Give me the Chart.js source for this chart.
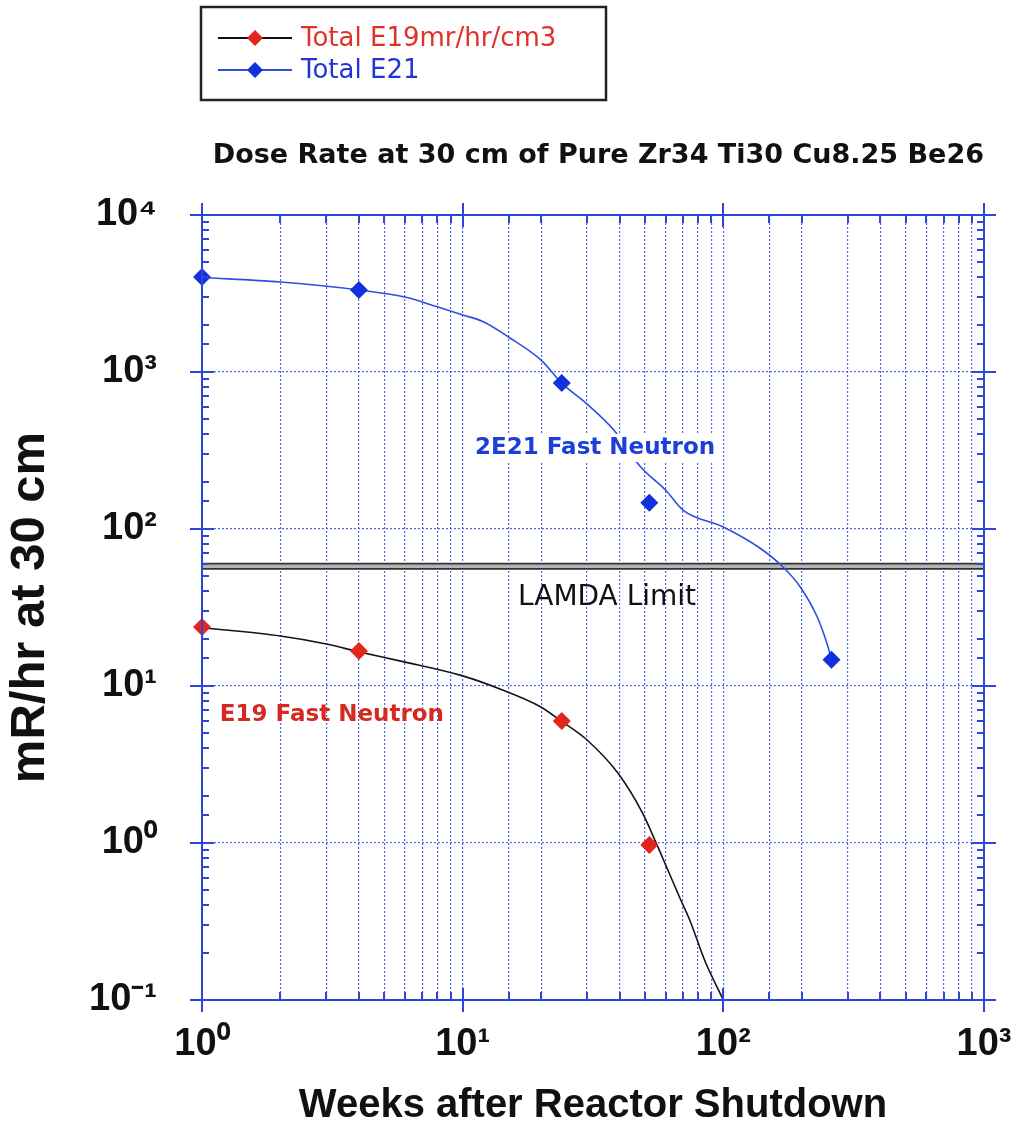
<!DOCTYPE html>
<html>
<head>
<meta charset="utf-8">
<script src="https://cdn.jsdelivr.net/npm/chart.js@4.4.1/dist/chart.umd.min.js"></script>
<style>
  html, body { margin: 0; padding: 0; background: #fff; }
</style>
</head>
<body>
<canvas id="doseChart" width="1021" height="1130"></canvas>
<script>
// measured points (weeks after shutdown, mR/hr at 30 cm)
const weeksE19 = [1, 4, 24, 52];
const doseE19 = [23.8, 16.7, 5.98, 0.97];
const weeksE21 = [1, 4, 24, 52, 260];
const doseE21 = [4030, 3330, 850, 147, 14.7];

// fitted curves
const fitWeeksE19 = [1, 2, 3, 4, 5.9, 10, 13.9, 19.8, 24, 30, 39.4, 49, 55.4, 60.4, 68, 74.5, 85, 100];
const fitDoseE19 = [23.5, 20.8, 18.5, 16.5, 14.3, 11.6, 9.57, 7.4, 5.94, 4.53, 2.79, 1.55, 0.99, 0.71, 0.45, 0.32, 0.177, 0.1];
const fitWeeksE21 = [1, 2, 4, 6, 8, 10, 12, 15, 20, 24, 30, 38, 48, 60, 70, 100, 138, 169, 197, 229, 252, 260];
const fitDoseE21 = [4000, 3740, 3330, 3000, 2600, 2310, 2090, 1670, 1190, 850, 625, 427, 250, 177, 132, 103, 75.7, 57.5, 42.9, 27.6, 17.8, 14.7];

// LAMDA limit
const lamdaWeeks = [1, 1000];
const lamdaDose = [58, 58];

// tick labels
const xTicks = [1, 10, 100, 1000];
const xTickLabels = ["10⁰", "10¹", "10²", "10³"];
const yTicks = [0.1, 1, 10, 100, 1000, 10000];
const yTickLabels = ["10⁻¹", "10⁰", "10¹", "10²", "10³", "10⁴"];

const RED = "#e2261c";
const BLUE = "#1230dc";
const BLUE_LINE = "#2f4fe2";
const GRID = "rgba(62, 84, 228, 0.9)";
const FRAME = "#2d45d8";

const toXY = (xs, ys) => xs.map((x, i) => ({ x: x, y: ys[i] }));
const isDecade = (v) => Math.abs(Math.log10(v) - Math.round(Math.log10(v))) < 1e-9;
const labelFor = (ticks, labels, v) => {
  const i = ticks.findIndex((t) => Math.abs(t - v) < t * 1e-6);
  return i >= 0 ? labels[i] : "";
};
// keep the plot box fixed, no extra room for edge labels
const noPad = (s) => { s.paddingLeft = 0; s.paddingRight = 0; s.paddingTop = 0; s.paddingBottom = 0; };

const annotations = [
  { text: "2E21 Fast Neutron", x: 32.2, y: 328, color: "#1d3fd9", font: "bold 23px 'DejaVu Sans'", box: true },
  { text: "LAMDA Limit", x: 35.8, y: 36.3, color: "#111", font: "28px 'DejaVu Sans'", box: false },
  { text: "E19 Fast Neutron", x: 3.15, y: 6.53, color: "#d42a22", font: "bold 23px 'DejaVu Sans'", box: false },
];

function diamond(ctx, x, y, r, color) {
  ctx.fillStyle = color;
  ctx.beginPath();
  ctx.moveTo(x, y - r);
  ctx.lineTo(x + r, y);
  ctx.lineTo(x, y + r);
  ctx.lineTo(x - r, y);
  ctx.closePath();
  ctx.fill();
}

// text labels inside the plot
const annotationPlugin = {
  id: "annotations",
  afterDatasetsDraw(chart) {
    const { ctx, scales } = chart;
    ctx.save();
    annotations.forEach((a) => {
      const px = scales.x.getPixelForValue(a.x);
      const py = scales.y.getPixelForValue(a.y);
      ctx.font = a.font;
      const w = ctx.measureText(a.text).width;
      if (a.box) {
        ctx.fillStyle = "#fff";
        ctx.fillRect(px - w / 2 - 4, py - 14, w + 8, 28);
      }
      ctx.fillStyle = a.color;
      ctx.textAlign = "center";
      ctx.textBaseline = "middle";
      ctx.fillText(a.text, px, py);
    });
    ctx.restore();
  },
};

// blue frame with crossing decade ticks and inner minor ticks, plus the boxed legend
const framePlugin = {
  id: "frame",
  afterDraw(chart) {
    const { ctx, chartArea: a, scales } = chart;
    ctx.save();
    ctx.strokeStyle = FRAME;
    ctx.lineWidth = 2;
    ctx.strokeRect(a.left, a.top, a.right - a.left, a.bottom - a.top);
    ctx.beginPath();
    scales.x.ticks.forEach((t) => {
      const px = Math.round(scales.x.getPixelForValue(t.value));
      if (isDecade(t.value)) {
        ctx.moveTo(px, a.bottom - 12); ctx.lineTo(px, a.bottom + 12);
        ctx.moveTo(px, a.top - 12); ctx.lineTo(px, a.top + 12);
      } else {
        ctx.moveTo(px, a.bottom); ctx.lineTo(px, a.bottom - 8);
        ctx.moveTo(px, a.top); ctx.lineTo(px, a.top + 8);
      }
    });
    scales.y.ticks.forEach((t) => {
      const py = Math.round(scales.y.getPixelForValue(t.value));
      if (isDecade(t.value)) {
        ctx.moveTo(a.left - 12, py); ctx.lineTo(a.left + 12, py);
        ctx.moveTo(a.right - 12, py); ctx.lineTo(a.right + 12, py);
      } else {
        ctx.moveTo(a.left, py); ctx.lineTo(a.left + 7, py);
        ctx.moveTo(a.right, py); ctx.lineTo(a.right - 7, py);
      }
    });
    ctx.stroke();

    // legend
    const rows = [
      { label: chart.data.datasets[0].label, line: "#111", marker: RED, text: "#e0322b" },
      { label: chart.data.datasets[1].label, line: BLUE_LINE, marker: BLUE, text: "#2236d8" },
    ];
    ctx.strokeStyle = "#222";
    ctx.lineWidth = 2.5;
    ctx.strokeRect(201, 7, 405, 93);
    rows.forEach((r, i) => {
      const y = 38 + i * 32;
      ctx.strokeStyle = r.line;
      ctx.lineWidth = 2;
      ctx.beginPath();
      ctx.moveTo(218, y);
      ctx.lineTo(292, y);
      ctx.stroke();
      diamond(ctx, 255, y, 8, r.marker);
      ctx.fillStyle = r.text;
      ctx.font = "26px 'DejaVu Sans'";
      ctx.textAlign = "left";
      ctx.textBaseline = "middle";
      ctx.fillText(r.label, 301, y + 1);
    });
    ctx.restore();
  },
};

const config = {
  type: "scatter",
  data: {
    datasets: [
      {
        label: "Total E19mr/hr/cm3",
        data: toXY(weeksE19, doseE19),
        showLine: false,
        pointStyle: "rectRot",
        pointRadius: 9,
        pointBackgroundColor: RED,
        pointBorderWidth: 0,
        clip: false,
      },
      {
        label: "Total E21",
        data: toXY(weeksE21, doseE21),
        showLine: false,
        pointStyle: "rectRot",
        pointRadius: 9,
        pointBackgroundColor: BLUE,
        pointBorderWidth: 0,
        clip: false,
      },
      {
        label: "E19 fit",
        data: toXY(fitWeeksE19, fitDoseE19),
        showLine: true,
        borderColor: "#151515",
        borderWidth: 1.6,
        pointRadius: 0,
        cubicInterpolationMode: "monotone",
      },
      {
        label: "E21 fit",
        data: toXY(fitWeeksE21, fitDoseE21),
        showLine: true,
        borderColor: BLUE_LINE,
        borderWidth: 1.6,
        pointRadius: 0,
        cubicInterpolationMode: "monotone",
      },
      {
        label: "LAMDA inner",
        data: toXY(lamdaWeeks, lamdaDose),
        showLine: true,
        borderColor: "#b4b4b4",
        borderWidth: 3.5,
        pointRadius: 0,
      },
      {
        label: "LAMDA Limit",
        data: toXY(lamdaWeeks, lamdaDose),
        showLine: true,
        borderColor: "#333",
        borderWidth: 7,
        pointRadius: 0,
      },
    ],
  },
  options: {
    responsive: false,
    animation: false,
    layout: { padding: { top: 140, right: 37, bottom: 0, left: 0 } },
    plugins: {
      legend: { display: false },
      tooltip: { enabled: false },
      title: {
        display: true,
        align: "end",
        text: "Dose Rate at 30 cm of Pure Zr34 Ti30 Cu8.25 Be26",
        color: "#111",
        font: { family: "'DejaVu Sans'", size: 27, weight: "bold", lineHeight: 1.2 },
        padding: { top: 0, bottom: 42.6 },
      },
    },
    scales: {
      x: {
        type: "logarithmic",
        min: 1,
        max: 1000,
        afterFit: (s) => { s.height = 130; noPad(s); },
        grid: { color: GRID, lineWidth: 1.2, drawTicks: false },
        border: { display: false, dash: [2, 2] },
        ticks: {
          autoSkip: false,
          maxRotation: 0,
          padding: 22,
          color: "#111",
          font: { family: "'Liberation Sans'", size: 38, weight: "bold" },
          callback: (v) => labelFor(xTicks, xTickLabels, v),
        },
        title: {
          display: true,
          text: "Weeks after Reactor Shutdown",
          color: "#111",
          font: { family: "'Liberation Sans'", size: 40, weight: "bold", lineHeight: 1 },
          padding: { top: 1, bottom: 4 },
        },
      },
      y: {
        type: "logarithmic",
        min: 0.1,
        max: 10000,
        afterFit: (s) => { s.width = 202; noPad(s); },
        grid: {
          color: (c) => (c.tick && isDecade(c.tick.value) ? GRID : "rgba(0,0,0,0)"),
          lineWidth: 1.2,
          drawTicks: false,
        },
        border: { display: false, dash: [2, 2] },
        ticks: {
          autoSkip: false,
          padding: 45,
          color: "#111",
          font: { family: "'Liberation Sans'", size: 38, weight: "bold" },
          callback: (v) => labelFor(yTicks, yTickLabels, v),
        },
        title: {
          display: true,
          text: "mR/hr at 30 cm",
          color: "#111",
          font: { family: "'Liberation Sans'", size: 49, weight: "bold", lineHeight: 1 },
          padding: { top: 6, bottom: 0 },
        },
      },
    },
  },
  plugins: [annotationPlugin, framePlugin],
};

new Chart(document.getElementById("doseChart"), config);
</script>
</body>
</html>
